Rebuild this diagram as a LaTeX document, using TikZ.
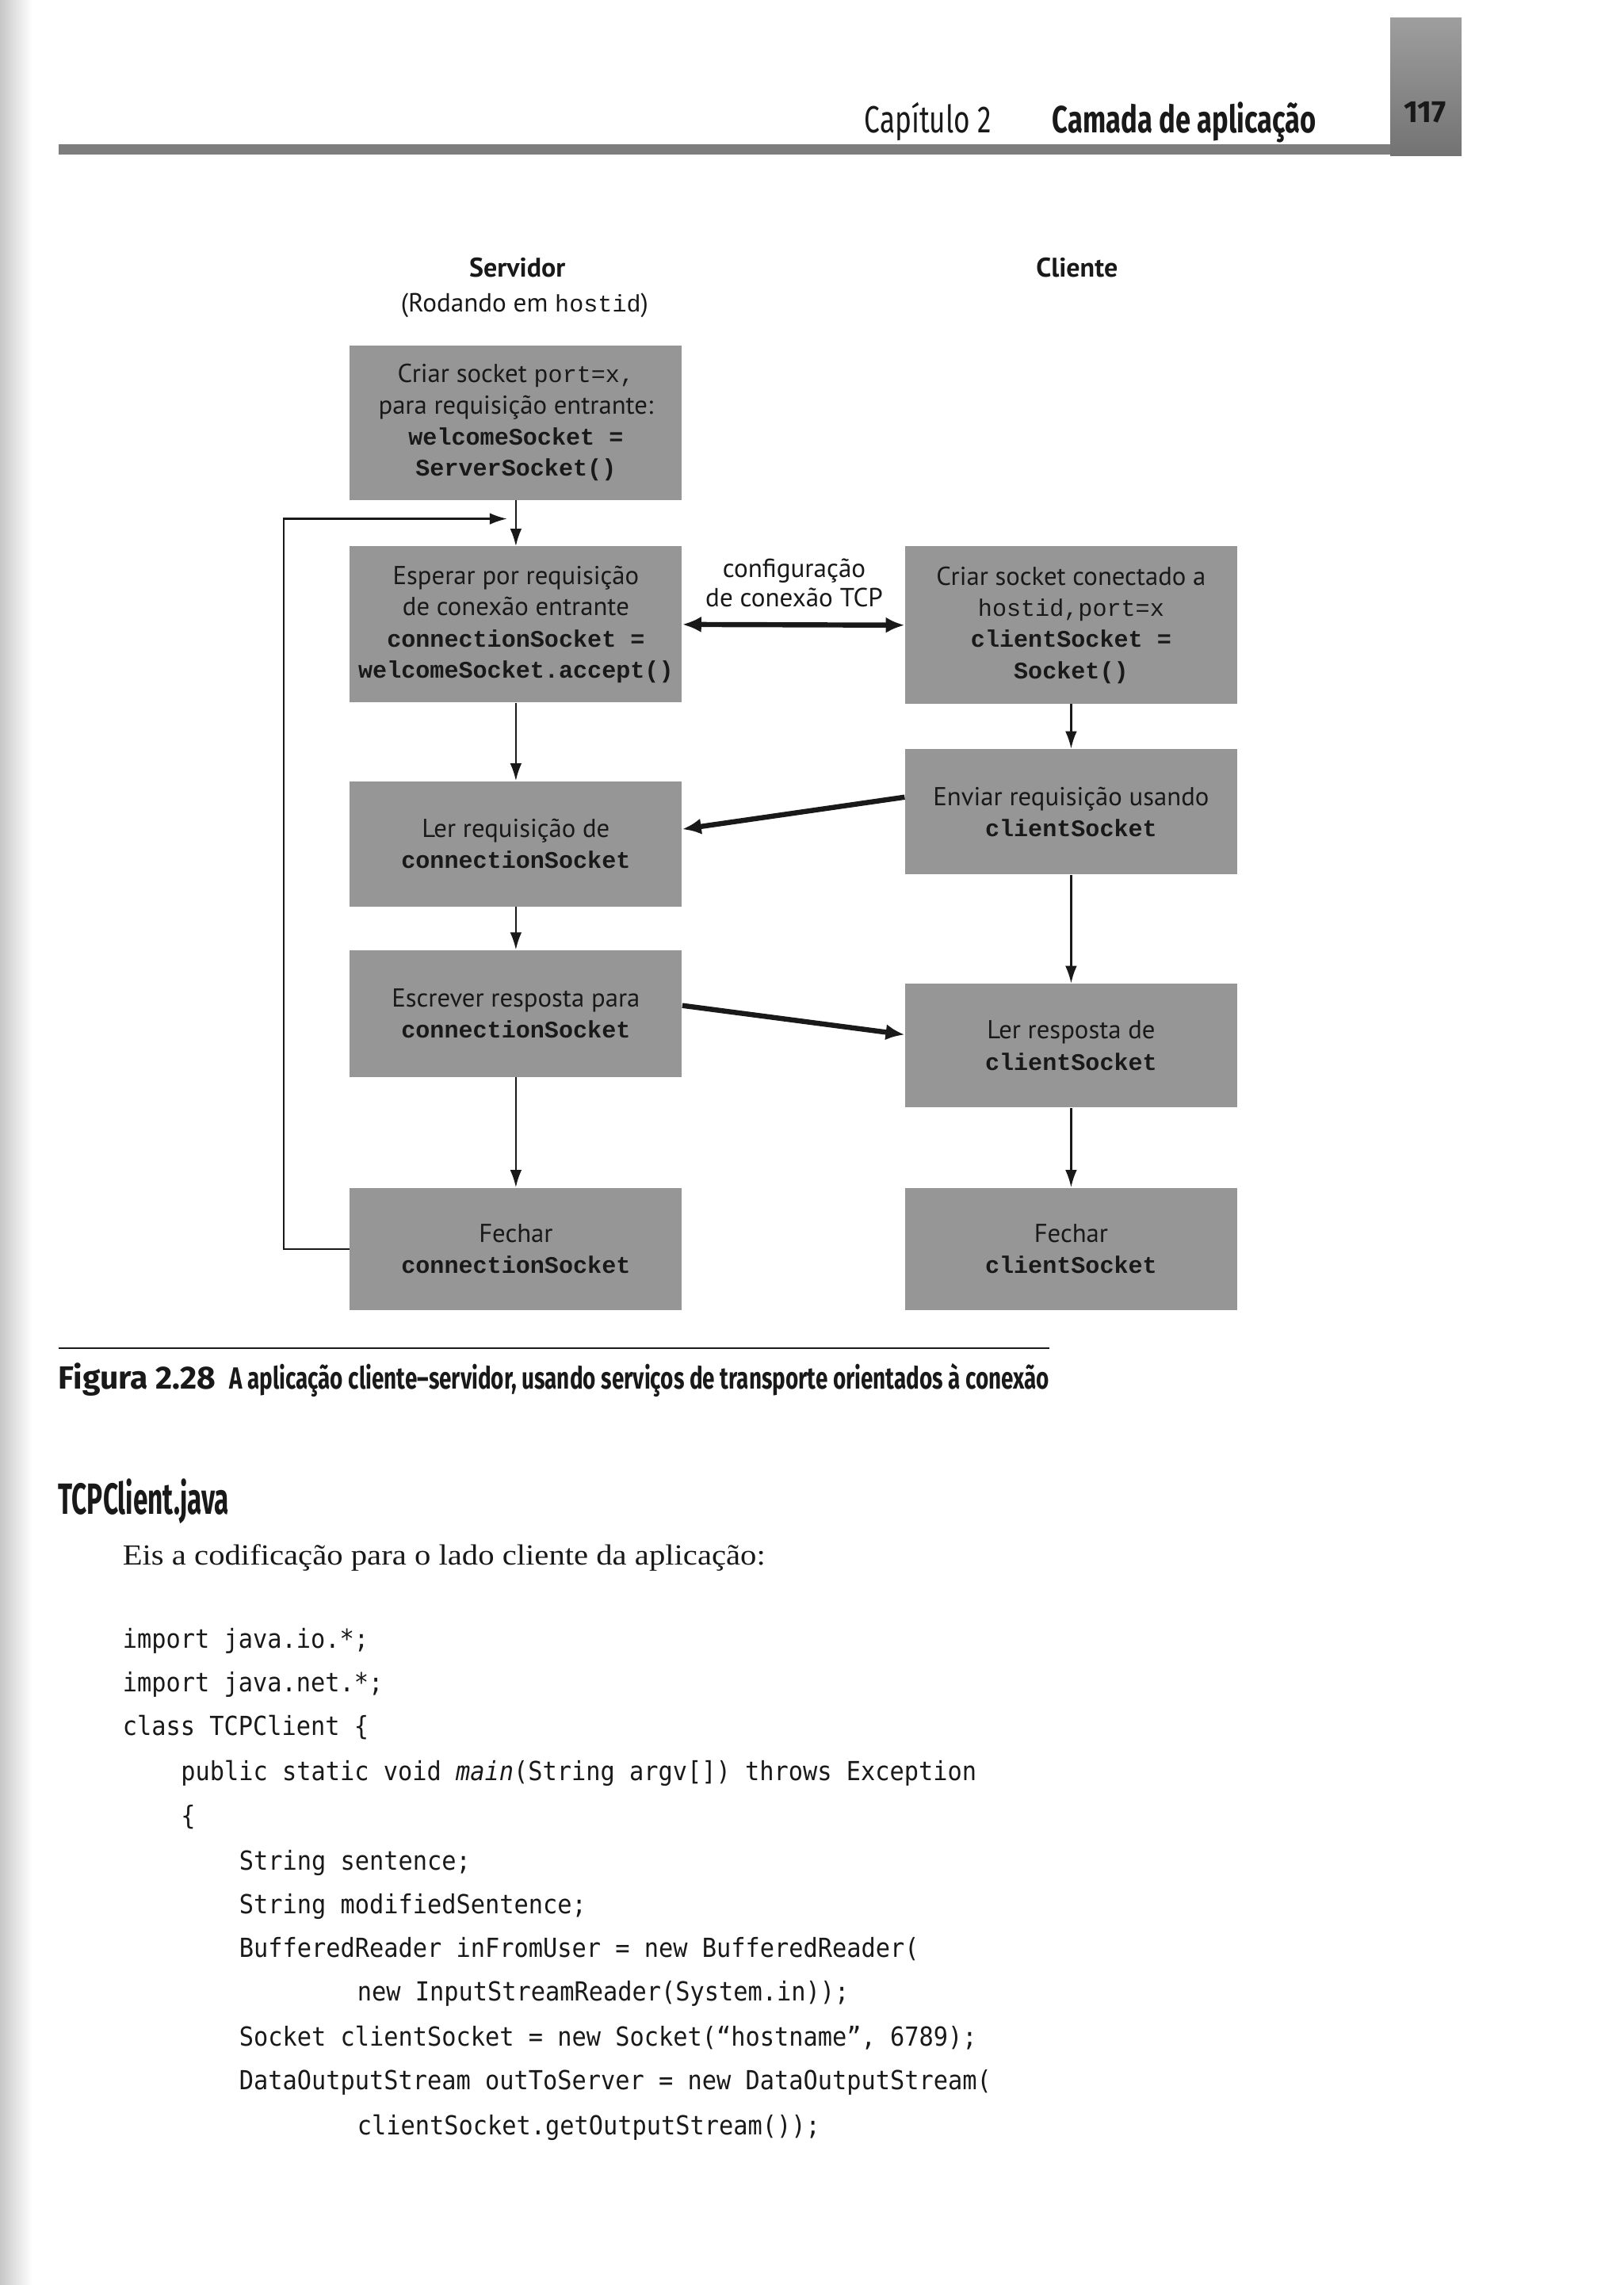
\documentclass[tikz,border=0pt]{standalone}
\usepackage{fontspec}
\usepackage{graphicx}
\setmainfont{Liberation Serif}
\newfontfamily\dsans{PT Sans}
\newfontfamily\dmono[Scale=0.92]{Liberation Mono}
\newfontfamily\cond{Fira Sans}
\newfontfamily\code[FakeStretch=0.916]{DejaVu Sans Mono}
\usetikzlibrary{arrows.meta,calc}
\definecolor{boxgray}{RGB}{150,150,150}
\definecolor{ink}{RGB}{25,25,25}
\definecolor{rulegray}{RGB}{125,125,125}
\newcommand\monob[1]{{\dmono\bfseries #1}}
\newcommand\monor[1]{{\dmono #1}}
\begin{document}
\begin{tikzpicture}[x=1pt,y=-1pt,
  box/.style={rectangle, fill=boxgray, minimum width=228pt, inner sep=0pt, align=center, text=ink,
              font=\dsans\fontsize{17.8}{21.3}\selectfont},
  arr/.style={draw=ink, line width=1.3pt, -{Latex[length=12pt,width=8pt]}},
  fat/.style={draw=ink, line width=3.5pt, -{Latex[length=13pt,width=11pt]}},
  fatboth/.style={draw=ink, line width=3.5pt, {Latex[length=13pt,width=11pt]}-{Latex[length=13pt,width=11pt]}},
  lbl/.style={inner sep=0pt, text=ink},
  codeline/.style={anchor=base west, inner sep=0pt, text=ink, font=\code\fontsize{18}{18}\selectfont}
  ]
\useasboundingbox (0,0) rectangle (1114,1568);
% binding shadow
\shade[left color=black!22, right color=white] (0,0) rectangle (22,1568);

% header
\fill[rulegray] (40,99) rectangle (955,106);
\shade[top color=black!38, bottom color=black!55] (954,12) rectangle (1003,107);
\node[lbl, anchor=base west] (hcap) at (593,91) {\resizebox{87pt}{\height}{\cond\fontsize{26}{26}\selectfont Capítulo 2}};
\node[lbl, anchor=base west] (hcam) at (722,91) {\resizebox{181pt}{\height}{\cond\bfseries\fontsize{26}{26}\selectfont Camada de aplicação}};
\node[lbl, anchor=base] (hnum) at (978,84) {\resizebox{29pt}{\height}{\cond\bfseries\fontsize{21}{21}\selectfont 117}};

% column titles
\node[lbl, anchor=base, font=\dsans\bfseries\fontsize{18.5}{20}\selectfont] (srv) at (355,190) {Servidor};
\node[lbl, anchor=base, font=\dsans\fontsize{18}{20}\selectfont] (srvsub) at (360,214) {(Rodando em {\dmono\fontsize{17.8}{20}\selectfont hostid})};
\node[lbl, anchor=base, font=\dsans\bfseries\fontsize{18.5}{20}\selectfont] (cli) at (739,190) {Cliente};

% server boxes
\node[box, minimum height=106pt] (S1) at (354,290) {Criar socket \monor{port=x,}\\para requisição entrante:\\\monob{welcomeSocket =}\\\monob{ServerSocket()}};
\node[box, minimum height=107pt] (S2) at (354,428.5) {Esperar por requisição\\de conexão entrante\\\monob{connectionSocket =}\\\monob{welcomeSocket.accept()}};
\node[box, minimum height=86pt] (S3) at (354,579) {Ler requisição de\\\monob{connectionSocket}};
\node[box, minimum height=87pt] (S4) at (354,695.5) {Escrever resposta para\\\monob{connectionSocket}};
\node[box, minimum height=84pt] (S5) at (354,857) {Fechar\\\monob{connectionSocket}};

% client boxes
\node[box, minimum height=108pt] (C1) at (735,429) {Criar socket conectado a\\\monor{hostid,port=x}\\\monob{clientSocket =}\\\monob{Socket()}};
\node[box, minimum height=86pt] (C2) at (735,557) {Enviar requisição usando\\\monob{clientSocket}};
\node[box, minimum height=85pt] (C3) at (735,717.5) {Ler resposta de\\\monob{clientSocket}};
\node[box, minimum height=84pt] (C4) at (735,857) {Fechar\\\monob{clientSocket}};

% vertical flow
\draw[arr] (S1.south) -- (S2.north);
\draw[arr] (S2.south) -- (S3.north);
\draw[arr] (S3.south) -- (S4.north);
\draw[arr] (S4.south) -- (S5.north);
\draw[arr] (C1.south) -- (C2.north);
\draw[arr] (C2.south) -- (C3.north);
\draw[arr] (C3.south) -- (C4.north);

% loop back
\coordinate (loopend) at (348,356);
\draw[arr] (S5.west) -- ++(-45,0) |- (loopend);

% connection setup
\draw[fatboth] (S2.east) -- (C1.west);
\node[lbl, align=center, font=\dsans\fontsize{18}{20}\selectfont] (setup) at (545,400) {configuração\\de conexão TCP};

% request / reply
\draw[fat] ([yshift=10pt]C2.west) -- ([yshift=10pt]S3.east);
\draw[fat] ([yshift=5.5pt]S4.east) -- ([yshift=7.5pt]C3.west);

% caption
\draw[ink, line width=1.3pt] (40,925) -- (720,925);
\node[lbl, anchor=base west] (fig) at (40,953) {\resizebox{108pt}{\height}{\cond\bfseries\fontsize{22}{22}\selectfont Figura 2.28}};
\node[lbl, anchor=base west] (capt) at (157,953) {\resizebox{563pt}{\height}{\cond\bfseries\fontsize{21}{21}\selectfont A aplicação cliente–servidor, usando serviços de transporte orientados à conexão}};

% section heading and text
\node[lbl, anchor=base west] (sec) at (40,1039) {\resizebox{117pt}{\height}{\cond\bfseries\fontsize{30}{30}\selectfont TCPClient.java}};
\node[lbl, anchor=base west] (intro) at (84,1074) {\resizebox{441pt}{\height}{\fontsize{20}{20}\selectfont Eis a codificação para o lado cliente da aplicação:}};

% code
\node[codeline] (l1) at (84,1131) {import java.io.*;};
\node[codeline] (l2) at (84,1161) {import java.net.*;};
\node[codeline] (l3) at (84,1191) {class TCPClient \{};
\node[codeline] (l4) at (124,1222) {public static void {\itshape main}(String argv[]) throws Exception};
\node[codeline] (l5) at (124,1252) {\{};
\node[codeline] (l6) at (164,1283) {String sentence;};
\node[codeline] (l7) at (164,1313) {String modifiedSentence;};
\node[codeline] (l8) at (164,1343) {BufferedReader inFromUser = new BufferedReader(};
\node[codeline] (l9) at (245,1373) {new InputStreamReader(System.in));};
\node[codeline] (l10) at (164,1404) {Socket clientSocket = new Socket(“hostname”, 6789);};
\node[codeline] (l11) at (164,1434) {DataOutputStream outToServer = new DataOutputStream(};
\node[codeline] (l12) at (245,1465) {clientSocket.getOutputStream());};
\end{tikzpicture}
\end{document}
